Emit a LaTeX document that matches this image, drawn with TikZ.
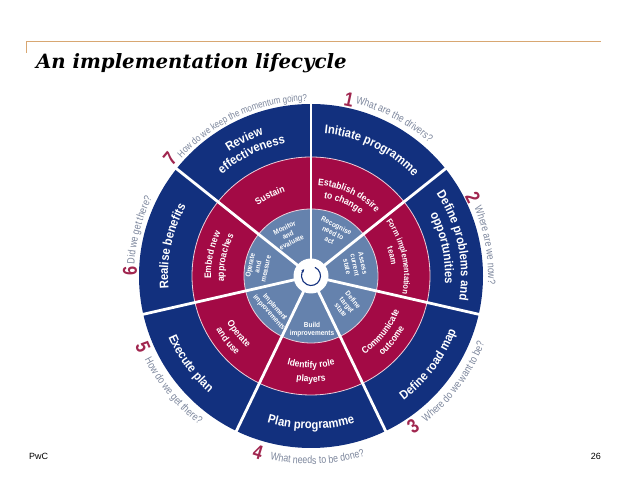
\documentclass[tikz,border=0pt]{standalone}
\usepackage{fontspec}
\setmainfont{Liberation Sans}
\newfontfamily\titlefont{DejaVu Serif}
\newfontfamily\qfont[FakeStretch=0.82]{Liberation Sans}
\newfontfamily\lblfont[FakeStretch=0.9]{Liberation Sans}
\usetikzlibrary{decorations.text,arrows.meta}
\definecolor{navy}{HTML}{12307E}
\definecolor{crimson}{HTML}{A30A45}
\definecolor{slate}{HTML}{6582AD}
\definecolor{qgray}{HTML}{7C869C}
\definecolor{tan}{HTML}{D8A772}
\definecolor{numred}{HTML}{A0264F}
\newcommand\qfmt{\qfont\fontsize{10.7}{12}\selectfont\color{qgray}}
\newcommand\qsmall{\qfont\fontsize{9.8}{12}\selectfont\color{qgray}}
\newcommand\nfmt{\lblfont\bfseries\fontsize{12.5}{13}\selectfont\color{white}}
\newcommand\rfmt{\lblfont\bfseries\fontsize{9.5}{10}\selectfont\color{white}}
\newcommand\rsmall{\lblfont\bfseries\fontsize{8.4}{10}\selectfont\color{white}}
% radius, mid angle, direction (1 ccw, -1 cw), format, text
\newcommand\ringtext[5]{%
  \pgfmathsetmacro\sa{#2-#3*60}\pgfmathsetmacro\ea{#2+#3*60}%
  \path[shift={(c)},decorate,decoration={text along path,text align=center,text={|#4|#5}}]
    (\sa:#1pt) arc[start angle=\sa,end angle=\ea,radius=#1pt];}
\tikzset{
  x=1pt,y=1pt,
  spoke/.style={draw=white,line width=2.8pt},
  ringedge/.style={draw=white!80!crimson,line width=0.8pt},
  numlabel/.style={font=\qfont\bfseries\fontsize{20}{20}\selectfont,text=numred,inner sep=0pt},
  smalltxt/.style={font=\lblfont\bfseries\fontsize{7.2}{8}\selectfont,text=white,align=center,inner sep=0pt},
  foot/.style={font=\fontsize{9}{10}\selectfont,text=black,inner sep=0pt}
}
\begin{document}
\begin{tikzpicture}
\useasboundingbox (0,0) rectangle (638,478);
\coordinate (c) at (311,202);
% header rule
\coordinate (ruleA) at (26.5,425);
\coordinate (ruleB) at (26.5,436);
\coordinate (ruleC) at (601,436);
\draw[tan,line width=1pt] (ruleA) -- (ruleB) -- (ruleC);
\node[anchor=base west,inner sep=0pt,font=\titlefont\bfseries\itshape\fontsize{19.7}{21}\selectfont] (title) at (36,409) {An implementation lifecycle};
% wheel
\fill[navy] (c) circle[radius=172pt];
\fill[crimson] (c) circle[radius=119pt];
\draw[ringedge] (c) circle[radius=119pt];
\fill[slate] (c) circle[radius=67pt];
\draw[ringedge] (c) circle[radius=67pt];
\foreach \i/\a in {1/90,2/38.57,3/-12.86,4/-64.29,5/-115.71,6/-167.14,7/141.43}{
  \coordinate (s\i) at ([shift={(\a:173pt)}]c);
  \draw[spoke] (c) -- (s\i);
}
\node[circle,fill=white,minimum size=35pt,inner sep=0pt] (hub) at (c) {};
\draw[navy,line width=1.1pt,-{Stealth[length=3pt,width=3pt]}] ([shift={(65:9.5pt)}]c) arc[start angle=65,end angle=-225,radius=9.5pt];
% outer ring labels
\ringtext{143}{64.3}{-1}{\nfmt}{Initiate programme}
\ringtext{150}{12}{-1}{\nfmt}{Define problems and}
\ringtext{134}{12}{-1}{\nfmt}{opportunities}
\ringtext{155}{-37}{1}{\nfmt}{Define road map}
\ringtext{153}{-90}{1}{\nfmt}{Plan programme}
\ringtext{155}{216}{1}{\nfmt}{Execute plan}
\ringtext{143}{168}{-1}{\nfmt}{Realise benefits}
\ringtext{149}{116}{-1}{\nfmt}{Review}
\ringtext{135}{116}{-1}{\nfmt}{effectiveness}
% middle ring labels
\ringtext{88}{117}{-1}{\rfmt}{Sustain}
\ringtext{91}{65}{-1}{\rfmt}{Establish desire}
\ringtext{79}{66}{-1}{\rfmt}{to change}
\ringtext{93}{12.5}{-1}{\rsmall}{Form implementation}
\ringtext{81}{14}{-1}{\rsmall}{team}
\ringtext{95}{-38.6}{1}{\rfmt}{Communicate}
\ringtext{107}{-38.6}{1}{\rfmt}{outcome}
\ringtext{92}{-90}{1}{\rfmt}{Identify role}
\ringtext{106}{-90}{1}{\rfmt}{players}
\ringtext{96}{218.6}{1}{\rfmt}{Operate}
\ringtext{109}{218}{1}{\rfmt}{and use}
\ringtext{100}{168}{-1}{\rfmt}{Embed new}
\ringtext{87}{168}{-1}{\rfmt}{approaches}
% inner ring labels
\node[smalltxt,rotate=-26] (n1) at (333,245) {Recognise\\need to\\act};
\node[smalltxt,rotate=-78] (n2) at (355,213) {Assess\\current\\state};
\node[smalltxt,rotate=-50] (n3) at (347,173) {Define\\target\\state};
\node[smalltxt] (n4) at (312,148) {Build\\improvements};
\node[smalltxt,rotate=-48] (n5) at (272,168) {Implement\\improvements};
\node[smalltxt,rotate=78] (n6) at (258,211) {Operate\\and\\measure};
\node[smalltxt,rotate=26] (n7) at (288,243) {Monitor\\and\\evaluate};
% questions
\ringtext{178}{62}{-1}{\qfmt}{What are the drivers?}
\ringtext{177}{10}{-1}{\qfmt}{Where are we now?}
\ringtext{186}{-36.5}{1}{\qfmt}{Where do we want to be?}
\ringtext{188}{-88}{1}{\qfmt}{What needs to be done?}
\ringtext{186}{219.8}{1}{\qfmt}{How do we get there?}
\ringtext{177}{165}{-1}{\qfmt}{Did we get there?}
\ringtext{175}{114.5}{-1}{\qsmall}{How do we keep the momentum going?}
% numbers
\node[numlabel,rotate=-12] (q1) at (349,378) {1};
\node[numlabel,rotate=-64] (q2) at (473,280) {2};
\node[numlabel,rotate=34] (q3) at (413,52) {3};
\node[numlabel,rotate=-17] (q4) at (258,26) {4};
\node[numlabel,rotate=-67] (q5) at (143,131) {5};
\node[numlabel,rotate=90] (q6) at (130,207) {6};
\node[numlabel,rotate=50] (q7) at (170,319) {7};
% footer
\node[foot,anchor=base west] (f1) at (29,18) {PwC};
\node[foot,anchor=base east] (f2) at (601,18) {26};
\end{tikzpicture}
\end{document}
